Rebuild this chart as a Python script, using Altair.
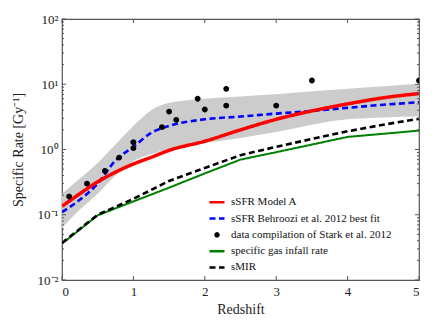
import math
import altair as alt
import pandas as pd

# ---------------- data ----------------
S_RED = "sSFR Model A"
S_BLUE = "sSFR Behroozi et al. 2012 best fit"
S_DATA = "data compilation of Stark et al. 2012"
S_GREEN = "specific gas infall rate"
S_BLACK = "sMIR"
series = [S_RED, S_BLUE, S_DATA, S_GREEN, S_BLACK]

z_fine = [0, 0.25, 0.5, 0.75, 1, 1.25, 1.5, 2, 2.5, 3, 3.5, 4, 4.5, 5]
red_vals = [0.135, 0.21, 0.32, 0.45, 0.6, 0.76, 0.97, 1.34, 2.0, 2.9, 3.9, 5.0, 6.2, 7.2]
blue_vals = [0.11, 0.17, 0.3, 0.68, 1.1, 1.8, 2.3, 2.9, 3.2, 3.55, 3.9, 4.35, 4.85, 5.3]
band_hi = [0.21, 0.36, 0.62, 1.2, 2.3, 4.0, 5.2, 6.0, 6.5, 7.0, 7.8, 8.5, 9.3, 10.2]
band_lo = [0.062, 0.12, 0.21, 0.4, 0.66, 0.85, 1.02, 1.25, 1.5, 1.85, 2.4, 2.9, 3.1, 3.2]

z_coarse = [0, 0.5, 1, 1.5, 2, 2.5, 3, 3.5, 4, 4.5, 5]
green_vals = [0.036, 0.098, 0.16, 0.26, 0.43, 0.70, 0.91, 1.19, 1.56, 1.74, 1.95]
smir_vals = [0.037, 0.1, 0.175, 0.33, 0.52, 0.82, 1.1, 1.45, 1.9, 2.4, 2.95]

pts_z = [0.1, 0.35, 0.6, 0.8, 1.0, 1.0, 1.4, 1.5, 1.6, 1.9, 2.0, 2.3, 2.3, 3.0, 3.5, 5.0]
pts_v = [0.19, 0.30, 0.47, 0.75, 1.29, 1.05, 2.2, 3.8, 2.85, 6.0, 4.1, 8.5, 4.7, 4.7, 11.4, 11.4]

x_ticks = [0, 1, 2, 3, 4, 5]
y_major = [0.01, 0.1, 1, 10, 100]
y_minor = [m * d for d in [0.01, 0.1, 1, 10] for m in range(2, 10)]

# ---------------- styles ----------------
colors = ["#ff0000", "#0000ff", "#000000", "#008000", "#000000"]
dashes = [[1, 0], [6, 3.5], [1, 0], [1, 0], [6, 3.5]]
# small round dot as a 16-gon (unit coordinates)
_r = 0.2
dot_path = "M" + "L".join(
    f"{_r * math.cos(2 * math.pi * k / 16):.4f},{_r * math.sin(2 * math.pi * k / 16):.4f}"
    for k in range(16)) + "Z"
shapes = ["stroke", "stroke", dot_path, "stroke", "stroke"]
FRAME = "#555555"
FONT = "Liberation Serif"

W, H = 357, 261

lines_df = pd.concat([
    pd.DataFrame({"z": z_fine, "v": red_vals, "series": S_RED}),
    pd.DataFrame({"z": z_fine, "v": blue_vals, "series": S_BLUE}),
    pd.DataFrame({"z": z_coarse, "v": green_vals, "series": S_GREEN}),
    pd.DataFrame({"z": z_coarse, "v": smir_vals, "series": S_BLACK}),
], ignore_index=True)
band_df = pd.DataFrame({"z": z_fine, "v": band_lo, "v2": band_hi})
pts_df = pd.DataFrame({"z": pts_z, "v": pts_v, "series": S_DATA})

xs = alt.Scale(domain=[0, 5], nice=False, zero=False)
ys = alt.Scale(type="log", domain=[0.01, 100], nice=False)

leg = dict(title=None, orient="none", legendX=146, legendY=176,
           labelFont=FONT, labelFontSize=11, labelColor="#111111", labelLimit=400,
           symbolSize=225, symbolStrokeWidth=2.5, rowPadding=1.3, clipHeight=14.5,
           labelOffset=5, padding=0)

color_enc = alt.Color("series:N", scale=alt.Scale(domain=series, range=colors),
                      legend=alt.Legend(**leg))
dash_enc = alt.StrokeDash("series:N", scale=alt.Scale(domain=series, range=dashes),
                          legend=alt.Legend(**leg))
shape_enc = alt.Shape("series:N", scale=alt.Scale(domain=series, range=shapes),
                      legend=alt.Legend(**leg))

x_enc = alt.X("z:Q", scale=xs, title="Redshift",
              axis=alt.Axis(values=x_ticks, format="d", ticks=False, tickSize=0,
                            domain=False, grid=False, labelPadding=5,
                            titlePadding=4))
y_enc = alt.Y("v:Q", scale=ys, title="Specific Rate [Gy⁻¹]",
              axis=alt.Axis(values=y_major, ticks=False, tickSize=0, domain=False,
                            grid=False, labelPadding=4, titlePadding=12,
                            labelExpr="datum.value >= 100 ? '10²' : datum.value >= 10 ? '10¹' : datum.value >= 1 ? '10⁰' : datum.value >= 0.1 ? '10⁻¹' : '10⁻²'"))

band = alt.Chart(band_df).mark_area(color="#cccccc", opacity=1, interpolate="monotone").encode(
    x=x_enc, y=y_enc, y2="v2:Q")


def line_layer(name, width, interp):
    return alt.Chart(lines_df).transform_filter(
        alt.datum.series == name
    ).mark_line(strokeWidth=width, clip=True, interpolate=interp).encode(
        x="z:Q", y="v:Q", color=color_enc, strokeDash=dash_enc)


red = line_layer(S_RED, 3.5, "monotone")
blue = line_layer(S_BLUE, 2.6, "monotone")
green = line_layer(S_GREEN, 2.0, "linear")
black = line_layer(S_BLACK, 2.6, "linear")

points = alt.Chart(pts_df).mark_point(filled=True, opacity=1, size=850, clip=True).encode(
    x="z:Q", y="v:Q", color=color_enc, shape=shape_enc)

xt_df = pd.DataFrame({"z": x_ticks})
ymaj_df = pd.DataFrame({"v": y_major})
ymin_df = pd.DataFrame({"v": y_minor})

tick_style = dict(color=FRAME, strokeWidth=1)
xt_bottom = alt.Chart(xt_df).mark_rule(**tick_style).encode(
    x="z:Q", y=alt.value(H), y2=alt.value(H - 4))
xt_top = alt.Chart(xt_df).mark_rule(**tick_style).encode(
    x="z:Q", y=alt.value(0), y2=alt.value(4))
yl_maj = alt.Chart(ymaj_df).mark_rule(**tick_style).encode(
    y="v:Q", x=alt.value(0), x2=alt.value(4))
yr_maj = alt.Chart(ymaj_df).mark_rule(**tick_style).encode(
    y="v:Q", x=alt.value(W), x2=alt.value(W - 4))
yl_min = alt.Chart(ymin_df).mark_rule(**tick_style).encode(
    y="v:Q", x=alt.value(0), x2=alt.value(2))
yr_min = alt.Chart(ymin_df).mark_rule(**tick_style).encode(
    y="v:Q", x=alt.value(W), x2=alt.value(W - 2))

chart = alt.layer(
    band, blue, red, green, black, points,
    xt_bottom, xt_top, yl_maj, yr_maj, yl_min, yr_min
).properties(
    width=W, height=H,
    autosize=alt.AutoSizeParams(type="none"),
    padding={"left": 54, "top": 11, "right": 8, "bottom": 39},
).configure_view(
    stroke=FRAME, strokeWidth=1.2
).configure_axis(
    labelFont=FONT, labelFontSize=13, labelColor="#222222",
    titleFont=FONT, titleFontSize=14, titleFontWeight="normal", titleColor="#222222",
)

chart.save("out.html", embed_options={"renderer": "svg", "actions": False})
